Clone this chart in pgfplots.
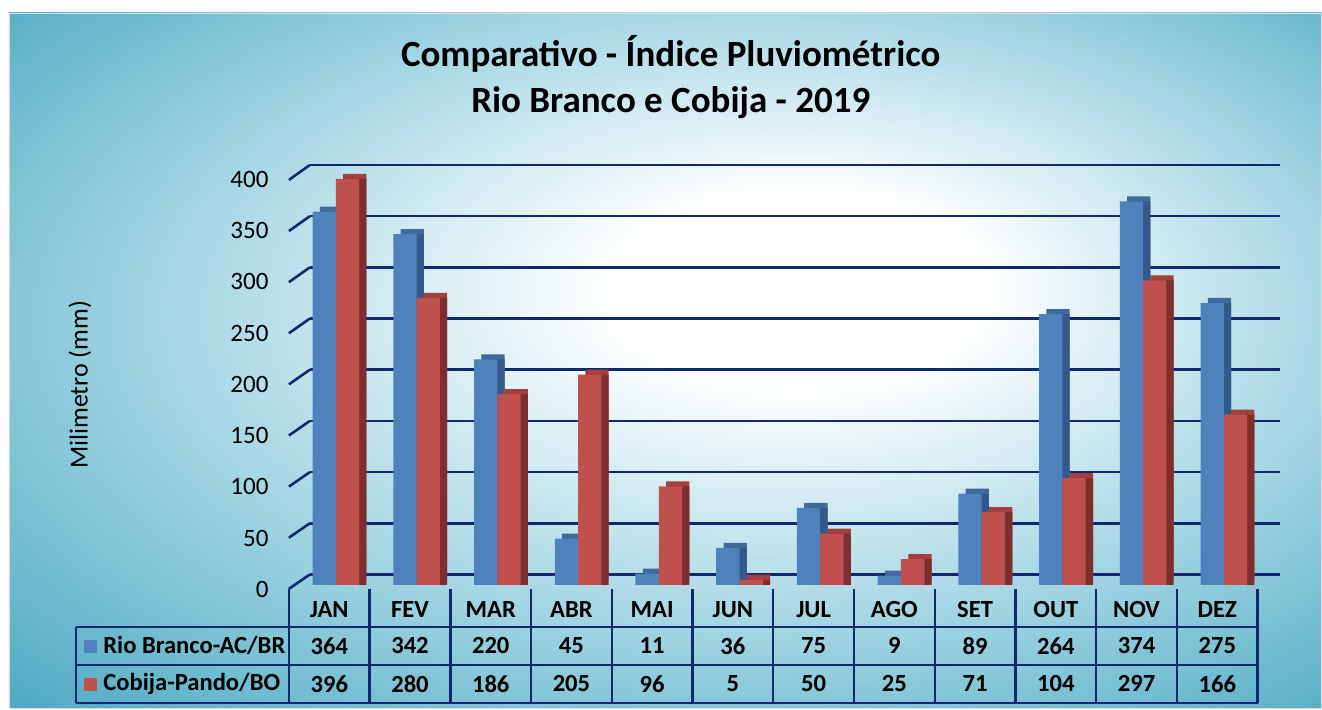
\documentclass[border=0pt]{standalone}
\usepackage{pgfplots}
\usepackage{pgfplotstable}
\pgfplotsset{compat=1.18}
\usepackage{fontspec}
\setmainfont{Carlito}

\definecolor{navy}{HTML}{12286E}
\definecolor{rbfront}{HTML}{4F81BD}
\definecolor{rbside}{HTML}{33588A}
\definecolor{rbtop}{HTML}{41699C}
\definecolor{cpfront}{HTML}{C0504D}
\definecolor{cpside}{HTML}{7E2F2D}
\definecolor{cptop}{HTML}{A3403D}
\definecolor{tealA}{HTML}{4AA8C3}
\definecolor{tealB}{HTML}{A6D7E4}

\pgfdeclareradialshading{bgshade}{\pgfpoint{6bp}{6bp}}{%
  color(0bp)=(white); color(7bp)=(white); color(22bp)=(tealB);
  color(38bp)=(tealA); color(50bp)=(tealA)}

% chuva mensal (mm), 2019
\pgfplotstableread{
x mes rb cp
0 JAN 364 396
1 FEV 342 280
2 MAR 220 186
3 ABR 45 205
4 MAI 11 96
5 JUN 36 5
6 JUL 75 50
7 AGO 9 25
8 SET 89 71
9 OUT 264 104
10 NOV 374 297
11 DEZ 275 166
}\chuva

\begin{document}
\begin{tikzpicture}
% background, title, frame of the plot and of the table (pixel units)
\begin{scope}[x=0.5pt,y=-0.5pt]
  \fill[white] (0,0) rectangle (1322,709);
  \shade[shading=bgshade, draw=gray!25] (9,13) rectangle (1322,709);
  \node[anchor=base, font=\bfseries\fontsize{18.5}{22}\selectfont] at (671,67) {Comparativo - Índice Pluviométrico};
  \node[anchor=base, font=\bfseries\fontsize{18.5}{22}\selectfont] at (671,113) {Rio Branco e Cobija - 2019};
  \node[rotate=90, font=\fontsize{13}{15}\selectfont] at (80,385) {Milimetro (mm)};
  \foreach \v in {0,50,...,400}
    \draw[navy, line width=1.3pt] (289,{589-\v*1.0225}) -- (310,{574.6-\v*1.024});
  % table lines
  \foreach \yy in {627,665,703}
    \draw[navy, line width=1.2pt] (76,\yy) -- (1258,\yy);
  \draw[navy, line width=1.2pt] (76,627) -- (76,703);
  \foreach \k in {0,...,12}
    \draw[navy, line width=1.2pt] ({289+80.75*\k},589) -- ({289+80.75*\k},703);
  \fill[rbfront] (84,640) rectangle (97,653);
  \fill[cpfront] (84,678) rectangle (97,691);
  \node[anchor=west, font=\bfseries\fontsize{12.3}{14}\selectfont, inner sep=0pt] at (103,646) {Rio Branco-AC/BR};
  \node[anchor=west, font=\bfseries\fontsize{12.3}{14}\selectfont, inner sep=0pt] at (103,684) {Cobija-Pando/BO};
\end{scope}

% back wall grid
\begin{axis}[
    at={(155pt,-287.3pt)}, anchor=south west,
    scale only axis, width=485pt, height=204.8pt,
    xmin=0, xmax=1, ymin=0, ymax=400,
    xtick=\empty, ytick={0,50,...,400}, yticklabels={},
    ymajorgrids, grid style={navy, line width=1.3pt},
    axis line style={draw=none}, major tick length=0pt,
]
\end{axis}

% bars
\begin{axis}[
    at={(147.8pt,-292.5pt)}, anchor=south west,
    scale only axis, width=484.5pt, height=205.1pt,
    xmin=-0.5, xmax=11.5, ymin=0, ymax=400,
    xtick=\empty, ytick={0,50,...,400}, ytick pos=left,
    axis line style={draw=none}, major tick length=0pt,
    /pgf/number format/assume math mode=true,
    yticklabel style={font=\fontsize{12.5}{14}\selectfont, xshift=-10pt, yshift=-2.3pt},
    clip=false,
    bars/.style={ybar, bar width=11.65pt, draw=none},
]
\addplot[bars, bar shift=-5.825pt, fill=rbtop, xshift=3.65pt, yshift=2.5pt] table[x=x, y=rb] {\chuva};
\addplot[bars, bar shift=-5.825pt, fill=rbside, xshift=3.65pt] table[x=x, y=rb] {\chuva};
\addplot[bars, bar shift=5.825pt, fill=cptop, xshift=3.65pt, yshift=2.5pt] table[x=x, y=cp] {\chuva};
\addplot[bars, bar shift=5.825pt, fill=cpside, xshift=3.65pt] table[x=x, y=cp] {\chuva};
\addplot[bars, bar shift=-5.825pt, fill=rbfront] table[x=x, y=rb] {\chuva};
\addplot[bars, bar shift=5.825pt, fill=cpfront] table[x=x, y=cp] {\chuva};
\end{axis}

% data table
\begin{axis}[
    at={(144.5pt,-351.5pt)}, anchor=south west,
    scale only axis, width=484.5pt, height=57pt,
    xmin=-0.5, xmax=11.5, ymin=0, ymax=3,
    hide axis, clip=false,
    cell/.style={only marks, mark=*, mark size=0pt, mark options={draw=none, fill=none},
      nodes near coords, point meta=explicit symbolic,
      every node near coord/.style={anchor=center, font=\bfseries\fontsize{12.3}{14}\selectfont}},
]
\addplot[cell] table[x=x, y expr=2.45, meta=mes] {\chuva};
\addplot[cell] table[x=x, y expr=1.5, meta=rb] {\chuva};
\addplot[cell] table[x=x, y expr=0.5, meta=cp] {\chuva};
\end{axis}
\end{tikzpicture}
\end{document}
